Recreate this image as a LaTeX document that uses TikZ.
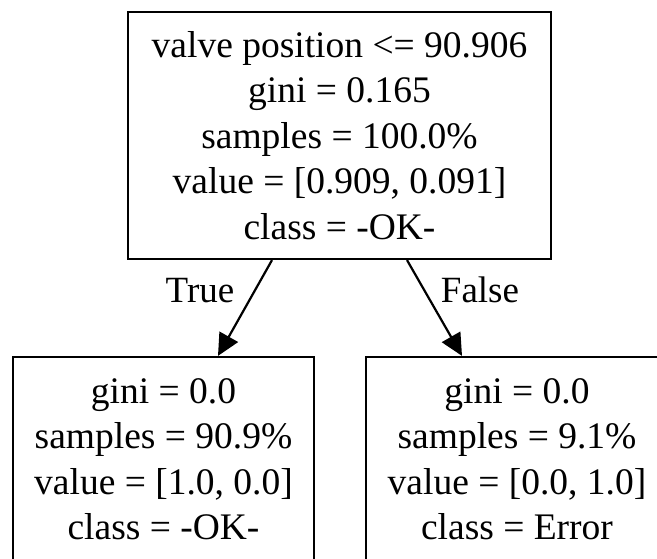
\documentclass[tikz,border=0pt]{standalone}
\usepackage{fontspec}
\setmainfont{Liberation Serif}
\usetikzlibrary{arrows.meta}
\begin{document}
\begin{tikzpicture}[x=1pt,y=-1pt,
  treebox/.style={draw,line width=2.2pt,align=center,inner sep=0pt,
    font=\fontsize{37.5}{45.5}\selectfont,minimum width=#1},
  edgelbl/.style={anchor=base,inner sep=0pt,font=\fontsize{37}{45.5}\selectfont},
  treeedge/.style={line width=2.2pt,-{Triangle[length=22pt,width=21pt]}}]
\useasboundingbox (0,0) rectangle (657,559);
\node[treebox=423pt,minimum height=247pt] (root) at (339.5,135.5)
  {valve position <= 90.906\\gini = 0.165\\samples = 100.0\%\\value = [0.909, 0.091]\\class = -OK-};
\node[treebox=301pt,minimum height=204pt] (left) at (163.5,459)
  {gini = 0.0\\samples = 90.9\%\\value = [1.0, 0.0]\\class = -OK-};
\node[treebox=302pt,minimum height=204pt] (right) at (517,459)
  {gini = 0.0\\samples = 9.1\%\\value = [0.0, 1.0]\\class = Error};
\draw[treeedge] ([xshift=-67.5pt]root.south) -- ([xshift=54.5pt]left.north);
\draw[treeedge] ([xshift=67.5pt]root.south) -- ([xshift=-55pt]right.north);
\node[edgelbl] (truelbl) at (200,302) {True};
\node[edgelbl] (falselbl) at (480,302) {False};
\end{tikzpicture}
\end{document}
